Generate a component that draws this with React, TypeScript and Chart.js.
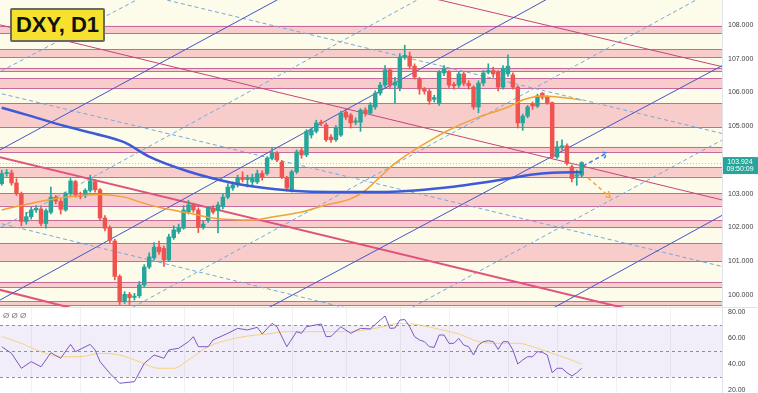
import React, { useEffect, useRef } from 'react';
import { Chart, registerables } from 'chart.js';
Chart.register(...registerables);

// ---------- candles (daily DXY), index 0..118 ----------
const opens = [
  103.30, 103.60, 103.62, 103.32, 103.00, 102.18, 102.32, 102.52, 102.55, 102.12,
  102.45, 102.90, 102.78, 102.52, 103.00, 103.36, 102.96, 102.94, 103.10, 103.36,
  103.12, 102.28, 101.98, 101.60, 100.55, 99.82, 100.02, 99.93, 99.98, 100.30,
  100.83, 101.10, 101.42, 101.38, 101.04, 101.70, 101.88, 101.98, 102.46, 102.67,
  102.52, 102.02, 102.22, 102.58, 102.50, 102.62, 102.90, 103.17, 103.26, 103.47,
  103.42, 103.35, 103.35, 103.60, 103.60, 104.05, 104.20, 103.94, 103.47, 103.10,
  103.65, 104.28, 104.15, 104.74, 104.85, 105.12, 105.04, 104.68, 104.60, 104.74,
  105.42, 105.33, 105.12, 105.12, 105.48, 105.39, 105.57, 105.98, 106.22, 106.67,
  106.22, 106.13, 107.05, 107.08, 106.78, 106.40, 106.10, 106.04, 105.80, 105.69,
  106.58, 106.60, 106.24, 106.22, 106.55, 106.27, 106.16, 105.57, 106.28, 106.60,
  106.65, 106.60, 106.16, 106.55, 106.52, 106.16, 105.10, 105.30, 105.65, 105.60,
  105.98, 105.86, 105.70, 104.09, 104.39, 104.42, 103.80, 103.52, 103.55,
];
const closes = [
  103.60, 103.63, 103.32, 103.00, 102.18, 102.32, 102.52, 102.57, 102.12, 102.50,
  102.90, 102.78, 102.54, 103.00, 103.38, 102.96, 102.92, 103.10, 103.38, 103.12,
  102.28, 101.98, 101.62, 100.55, 99.80, 100.02, 99.92, 99.97, 100.30, 100.83,
  101.13, 101.42, 101.28, 101.04, 101.72, 101.93, 101.98, 102.52, 102.67, 102.52,
  102.02, 102.10, 102.58, 102.46, 102.67, 102.90, 103.20, 103.26, 103.47, 103.42,
  103.47, 103.47, 103.60, 103.50, 104.05, 104.20, 104.00, 103.50, 103.17, 103.65,
  104.24, 104.15, 104.85, 104.89, 105.10, 105.09, 104.60, 104.60, 104.95, 105.39,
  105.27, 105.10, 105.16, 105.48, 105.39, 105.63, 105.98, 106.22, 106.67, 106.22,
  106.30, 107.05, 107.10, 106.78, 106.46, 106.10, 106.04, 105.75, 105.85, 106.60,
  106.72, 106.22, 106.20, 106.55, 106.27, 106.20, 105.57, 106.28, 106.58, 106.65,
  106.55, 106.16, 106.72, 106.78, 106.16, 105.10, 105.30, 105.57, 105.60, 105.90,
  105.86, 105.70, 104.09, 104.39, 104.42, 103.90, 103.45, 103.56, 103.924,
];
const highs = [
  103.70, 103.72, 103.70, 103.45, 103.05, 102.45, 102.60, 102.65, 102.60, 102.55,
  103.20, 102.95, 102.85, 103.05, 103.45, 103.40, 103.05, 103.15, 103.55, 103.42,
  103.15, 102.35, 102.05, 101.65, 100.60, 100.10, 100.08, 100.05, 100.40, 100.90,
  101.25, 101.55, 101.60, 101.45, 101.80, 102.05, 102.10, 102.65, 102.80, 102.72,
  102.58, 102.20, 102.62, 102.65, 102.75, 102.98, 103.30, 103.35, 103.55, 103.65,
  103.55, 103.58, 103.70, 103.68, 104.10, 104.35, 104.25, 103.98, 103.52, 103.70,
  104.30, 104.35, 104.90, 104.95, 105.18, 105.18, 105.10, 104.75, 105.02, 105.45,
  105.50, 105.38, 105.25, 105.52, 105.55, 105.70, 106.05, 106.30, 106.80, 106.72,
  106.45, 107.15, 107.40, 107.20, 106.85, 106.45, 106.15, 106.10, 105.92, 106.65,
  106.80, 106.65, 106.30, 106.62, 106.60, 106.35, 106.20, 106.35, 106.65, 106.85,
  106.75, 106.65, 106.80, 107.12, 106.58, 106.20, 105.36, 105.62, 105.72, 105.95,
  106.00, 105.90, 105.72, 104.55, 104.60, 104.48, 103.85, 103.70, 103.95,
];
const lows = [
  103.25, 103.52, 103.25, 102.95, 102.05, 102.10, 102.25, 102.45, 102.05, 101.98,
  102.40, 102.70, 102.40, 102.48, 102.95, 102.90, 102.85, 102.88, 103.05, 103.05,
  102.20, 101.90, 101.55, 100.45, 99.72, 99.75, 99.72, 99.85, 99.92, 100.25,
  100.78, 101.05, 101.20, 100.85, 101.00, 101.65, 101.82, 101.95, 102.40, 102.45,
  101.85, 101.95, 102.15, 102.40, 101.84, 102.55, 102.85, 103.10, 103.20, 103.35,
  103.20, 103.25, 103.30, 103.40, 103.55, 104.00, 103.95, 103.45, 103.08, 103.05,
  103.60, 104.05, 104.10, 104.65, 104.80, 105.02, 104.55, 104.52, 104.55, 104.70,
  105.20, 104.95, 105.05, 104.85, 105.30, 105.35, 105.50, 105.92, 106.15, 106.15,
  105.70, 106.05, 106.98, 106.70, 106.40, 105.95, 105.95, 105.65, 105.72, 105.62,
  106.50, 106.15, 106.10, 106.15, 106.20, 106.10, 105.50, 105.40, 106.20, 106.55,
  106.45, 106.05, 106.10, 106.48, 106.10, 104.95, 104.88, 105.25, 105.50, 105.55,
  105.80, 105.65, 104.05, 104.05, 104.30, 103.85, 103.35, 103.25, 103.50,
];
const lastPrice = 103.924;
const lastPriceText = '103.924';
const countdownText = '09:50:09';

// ---------- moving averages (index, value) ----------
const blueMaIdx = [0, 6, 13, 19, 25, 30, 38, 47, 52, 59, 67, 77, 90, 101, 108, 112, 118];
const blueMaVal = [105.55, 105.3, 105.0, 104.78, 104.52, 104.1, 103.66, 103.32, 103.2, 103.09, 103.05, 103.05, 103.18, 103.4, 103.57, 103.62, 103.64];
const orangeMaIdx = [0, 7, 13, 20, 25, 28, 32, 38, 43, 51, 55, 61, 66, 71, 74, 77, 80, 84, 88, 91, 97, 103, 106, 110, 113, 118];
const orangeMaVal = [102.52, 102.75, 102.9, 102.98, 102.9, 102.76, 102.6, 102.43, 102.28, 102.22, 102.31, 102.46, 102.67, 102.85, 103.1, 103.5, 103.9, 104.3, 104.65, 104.89, 105.27, 105.57, 105.78, 105.9, 105.87, 105.78];

// ---------- horizontal zones (price) ----------
const bandHighs = [107.98, 107.29, 106.73, 106.43, 105.69, 104.39, 103.79, 103.02, 102.22, 101.54, 100.39, 99.82];
const bandLows = [107.76, 107.05, 106.64, 106.13, 104.98, 104.24, 103.50, 102.64, 102.01, 101.01, 100.24, 99.70];

// ---------- trend lines [idx1, price1, idx2, price2] ----------
const blueSolidLines = [
  [-1.36, 104.22, 60.69, 109.11],
  [-1.36, 99.77, 115.62, 109.14],
  [50.52, 99.33, 148.18, 106.92],
  [109.52, 99.40, 148.18, 102.49],
];
const blueDashedLines = [
  [-1.36, 106.54, 30.17, 108.95],
  [-1.36, 101.91, 87.14, 108.95],
  [24.07, 99.43, 148.18, 109.29],
  [81.04, 99.44, 148.18, 104.72],
  [28.14, 108.93, 148.18, 104.73],
  [-1.36, 106.01, 148.18, 100.79],
  [-1.36, 102.16, 76.97, 99.37],
];
const redThinLines = [
  [-1.36, 108.04, 148.18, 102.76],
  [81.04, 109.02, 148.18, 106.71],
];
const redThickLines = [
  [-1.36, 104.12, 131.9, 99.43],
  [-1.36, 100.19, 20.0, 99.40],
];
// projection arrows: polylines (idx, price)
const blueArrowIdx = [118.27, 123.15, 121.93, 123.15, 122.6];
const blueArrowVal = [103.82, 104.21, 104.23, 104.21, 104.05];
const orangeArrowIdx = [119.29, 123.76, 123.46, 123.76, 122.54];
const orangeArrowVal = [103.47, 102.90, 103.08, 102.90, 102.92];

// ---------- RSI ----------
const rsiIdx = [0, 2, 4, 6, 8, 10, 12, 14, 15, 18, 19, 20, 22, 24, 27, 29, 31, 33, 34, 36, 38, 39, 40, 42, 43, 46, 48, 50, 52, 53, 55, 56, 58, 60, 61, 62, 65, 66, 67, 69, 71, 73, 75, 77, 78, 79, 80, 81, 82, 83, 84, 85, 86, 87, 88, 89, 90, 91, 92, 93, 94, 95, 96, 97, 98, 99, 100, 101, 102, 103, 104, 105, 106, 107, 108, 109, 110, 111, 112, 113, 114, 115, 116, 117, 118];
const rsiVal = [53.3, 48.2, 36.7, 41.8, 37.9, 48.7, 44.4, 55.1, 49.5, 55.1, 50.8, 41.8, 32.8, 25.2, 26.4, 40.5, 46.9, 44.4, 50.8, 52.1, 57.2, 61.0, 53.3, 53.3, 58.5, 63.6, 67.4, 66.2, 68.2, 63.1, 71.3, 68.7, 53.3, 64.9, 63.6, 68.7, 70.8, 61.0, 61.3, 68.7, 63.6, 67.4, 67.0, 73.8, 76.9, 67.4, 67.7, 73.8, 74.2, 68.7, 61.0, 58.5, 57.2, 53.3, 52.8, 62.3, 62.3, 55.9, 55.9, 59.7, 54.6, 53.3, 46.9, 54.6, 57.2, 57.9, 57.2, 51.3, 57.2, 57.2, 50.8, 40.0, 43.1, 45.6, 45.6, 49.5, 49.0, 46.9, 33.3, 36.7, 36.7, 33.3, 30.8, 33.3, 36.7];
const rsiMaIdx = [0, 4, 8, 12, 16, 20, 24, 28, 32, 35, 38, 42, 46, 50, 54, 58, 62, 66, 70, 74, 77, 81, 85, 89, 93, 97, 101, 105, 109, 112, 115, 118];
const rsiMaVal = [61.0, 55.9, 49.5, 45.6, 45.6, 48.2, 46.9, 41.8, 36.7, 36.7, 43.1, 53.3, 58.5, 61.5, 63.1, 64.9, 64.9, 64.9, 64.9, 66.2, 68.2, 71.3, 70.0, 66.7, 63.1, 57.2, 55.9, 55.9, 52.1, 48.2, 44.4, 40.0];
const rsiLevels = [70, 50, 30];
const gridIdx = [6, 16, 26, 37, 47, 59, 70, 81, 91, 103, 113, 125, 136];

// ---------- styling ----------
const X_MIN = -0.35;
const X_MAX = 146.55;
const PRICE_MIN = 99.645;
const PRICE_MAX = 108.741;
const RSI_MIN = 17.69;
const RSI_MAX = 83.08;
const UP = '#26a69a';
const DOWN = '#ef5350';
const CREAM = '#fdfbe9';
const PINK = '#f9cccc';
const BAND_LINE = '#c46a9c';
const AXIS_FONT = { size: 7, family: "'Liberation Sans', Arial, sans-serif" };

const segment = (s: number[], color: string, width: number, dash: number[], order: number) => ({
  type: 'line' as const,
  data: [{ x: s[0], y: s[1] }, { x: s[2], y: s[3] }],
  borderColor: color,
  borderWidth: width,
  borderDash: dash,
  pointRadius: 0,
  tension: 0,
  fill: false,
  order,
});

const polyline = (xs: number[], ys: number[], color: string, width: number, dash: number[], order: number, tension = 0) => ({
  type: 'line' as const,
  data: xs.map((x, i) => ({ x, y: ys[i] })),
  borderColor: color,
  borderWidth: width,
  borderDash: dash,
  pointRadius: 0,
  tension,
  cubicInterpolationMode: tension > 0 ? ('monotone' as const) : ('default' as const),
  fill: false,
  order,
});

const mainBg = {
  id: 'mainBg',
  beforeDraw(chart: any) {
    const { ctx, chartArea: a, scales } = chart;
    const y = scales.y;
    ctx.save();
    ctx.fillStyle = '#ffffff';
    ctx.fillRect(0, 0, chart.width, chart.height);
    ctx.fillStyle = CREAM;
    ctx.fillRect(a.left, a.top, a.right - a.left, a.bottom - a.top);
    for (let k = 0; k < bandHighs.length; k++) {
      const y1 = y.getPixelForValue(bandHighs[k]);
      const y2 = y.getPixelForValue(bandLows[k]);
      ctx.fillStyle = PINK;
      ctx.fillRect(a.left, y1, a.right - a.left, y2 - y1);
      ctx.strokeStyle = BAND_LINE;
      ctx.lineWidth = 1;
      ctx.beginPath();
      ctx.moveTo(a.left, Math.round(y1) + 0.5);
      ctx.lineTo(a.right, Math.round(y1) + 0.5);
      ctx.moveTo(a.left, Math.round(y2) + 0.5);
      ctx.lineTo(a.right, Math.round(y2) + 0.5);
      ctx.stroke();
    }
    const py = Math.round(y.getPixelForValue(lastPrice)) + 0.5;
    ctx.strokeStyle = 'rgba(38,166,154,0.45)';
    ctx.setLineDash([1, 2]);
    ctx.beginPath();
    ctx.moveTo(a.left, py);
    ctx.lineTo(a.right, py);
    ctx.stroke();
    ctx.restore();
  },
  afterDraw(chart: any) {
    const { ctx, chartArea: a, scales } = chart;
    const py = scales.y.getPixelForValue(lastPrice);
    ctx.save();
    ctx.fillStyle = '#26a69a';
    ctx.fillRect(a.right + 1, py - 5.5, chart.width - a.right - 1, 17);
    ctx.fillStyle = '#ffffff';
    ctx.font = "7px 'Liberation Sans', Arial, sans-serif";
    ctx.textAlign = 'center';
    ctx.textBaseline = 'middle';
    const cx = (a.right + chart.width) / 2;
    ctx.fillText(lastPriceText, cx, py - 0.3);
    ctx.fillText(countdownText, cx, py + 6.6);
    ctx.restore();
  },
};

const rsiBg = {
  id: 'rsiBg',
  beforeDraw(chart: any) {
    const { ctx, chartArea: a, scales } = chart;
    const y = scales.y;
    const x = scales.x;
    ctx.save();
    ctx.fillStyle = '#ffffff';
    ctx.fillRect(0, 0, chart.width, chart.height);
    ctx.strokeStyle = 'rgba(0,0,0,0.05)';
    ctx.lineWidth = 1;
    for (const g of gridIdx) {
      const gx = Math.round(x.getPixelForValue(g)) + 0.5;
      ctx.beginPath();
      ctx.moveTo(gx, a.top);
      ctx.lineTo(gx, a.bottom);
      ctx.stroke();
    }
    const yTop = y.getPixelForValue(rsiLevels[0]);
    const yBot = y.getPixelForValue(rsiLevels[2]);
    ctx.fillStyle = 'rgba(126,87,194,0.1)';
    ctx.fillRect(a.left, yTop, a.right - a.left, yBot - yTop);
    ctx.strokeStyle = '#8d909a';
    ctx.setLineDash([3, 3]);
    for (const lv of rsiLevels) {
      const ly = Math.round(y.getPixelForValue(lv)) + 0.5;
      ctx.beginPath();
      ctx.moveTo(a.left, ly);
      ctx.lineTo(a.right, ly);
      ctx.stroke();
    }
    ctx.restore();
  },
};

const rightAxis = (min: number, max: number, step: number, digits: number) => ({
  type: 'linear' as const,
  position: 'right' as const,
  min,
  max,
  grid: { display: false, drawTicks: false },
  border: { display: true, color: '#e0e3eb' },
  ticks: {
    stepSize: step,
    includeBounds: false,
    padding: 6,
    color: '#3f3f3f',
    font: AXIS_FONT,
    callback: (v: any) => Number(v).toFixed(digits),
  },
  afterFit: (s: any) => {
    s.width = 36;
    s.paddingTop = 0;
    s.paddingBottom = 0;
  },
});

const xAxis = { type: 'linear' as const, min: X_MIN, max: X_MAX, offset: false, display: false };

export default function App() {
  const mainRef = useRef<HTMLCanvasElement>(null);
  const rsiRef = useRef<HTMLCanvasElement>(null);

  useEffect(() => {
    const idx = opens.map((_, i) => i);
    const colors = idx.map((i) => (closes[i] >= opens[i] ? UP : DOWN));
    const datasets: any[] = [];
    blueDashedLines.forEach((s) => datasets.push(segment(s, '#74a9dc', 1, [4, 3], 12)));
    redThickLines.forEach((s) => datasets.push(segment(s, '#e0537f', 2, [], 11)));
    redThinLines.forEach((s) => datasets.push(segment(s, '#c8437a', 1, [], 11)));
    blueSolidLines.forEach((s) => datasets.push(segment(s, '#4257c9', 1, [], 10)));
    datasets.push({
      type: 'bar',
      data: idx.map((i) => ({ x: i, y: [lows[i], highs[i]] })),
      backgroundColor: colors,
      barThickness: 1,
      grouped: false,
      order: 6,
    });
    datasets.push({
      type: 'bar',
      data: idx.map((i) => ({ x: i, y: [opens[i], closes[i]] })),
      backgroundColor: colors,
      barThickness: 3.8,
      minBarLength: 1,
      grouped: false,
      order: 5,
    });
    datasets.push(polyline(orangeMaIdx, orangeMaVal, '#f0a23a', 1.5, [], 2, 0.4));
    datasets.push(polyline(blueMaIdx, blueMaVal, '#3c5bd6', 2.5, [], 1, 0.4));
    datasets.push(polyline(blueArrowIdx, blueArrowVal, '#3f7be0', 1.5, [4, 3], 0));
    datasets.push(polyline(orangeArrowIdx, orangeArrowVal, '#f5a43a', 1.5, [4, 3], 0));

    const main = new Chart(mainRef.current as HTMLCanvasElement, {
      type: 'bar',
      data: { datasets },
      options: {
        responsive: false,
        animation: false,
        devicePixelRatio: 1,
        layout: { padding: 0 },
        plugins: { legend: { display: false }, tooltip: { enabled: false } },
        scales: { x: xAxis, y: rightAxis(PRICE_MIN, PRICE_MAX, 1, 3) },
      } as any,
      plugins: [mainBg],
    });

    const rsi = new Chart(rsiRef.current as HTMLCanvasElement, {
      type: 'line',
      data: {
        datasets: [
          polyline(rsiMaIdx, rsiMaVal, 'rgba(243,200,90,0.75)', 1, [], 2, 0.4),
          polyline(rsiIdx, rsiVal, '#7e57c2', 1, [], 1),
        ] as any,
      },
      options: {
        responsive: false,
        animation: false,
        devicePixelRatio: 1,
        layout: { padding: 0 },
        plugins: { legend: { display: false }, tooltip: { enabled: false } },
        scales: { x: xAxis, y: rightAxis(RSI_MIN, RSI_MAX, 20, 2) },
      } as any,
      plugins: [rsiBg],
    });

    return () => {
      main.destroy();
      rsi.destroy();
    };
  }, []);

  return (
    <div style={{ position: 'fixed', left: 0, top: 0, width: 758, height: 393, background: '#fff', overflow: 'hidden' }}>
      <canvas ref={mainRef} width={758} height={307} style={{ position: 'absolute', left: 0, top: 0 }} />
      <div style={{ position: 'absolute', left: 0, top: 307, width: 758, height: 1, background: '#e0e3eb' }} />
      <canvas ref={rsiRef} width={758} height={85} style={{ position: 'absolute', left: 0, top: 308 }} />
      <div
        style={{
          position: 'absolute',
          left: 10,
          top: 8,
          width: 95,
          height: 34,
          boxSizing: 'border-box',
          background: '#f6e12e',
          border: '2px solid #6a6a66',
          borderRadius: 2,
          color: '#111',
          font: "bold 22px 'Liberation Sans', Arial, sans-serif",
          display: 'flex',
          alignItems: 'center',
          justifyContent: 'center',
          whiteSpace: 'nowrap',
        }}
      >
        DXY, D1
      </div>
      <div
        style={{
          position: 'absolute',
          left: 3,
          top: 311,
          color: '#777',
          font: "8px 'Liberation Sans', Arial, sans-serif",
          whiteSpace: 'pre',
        }}
      >
        Ø Ø Ø
      </div>
    </div>
  );
}
